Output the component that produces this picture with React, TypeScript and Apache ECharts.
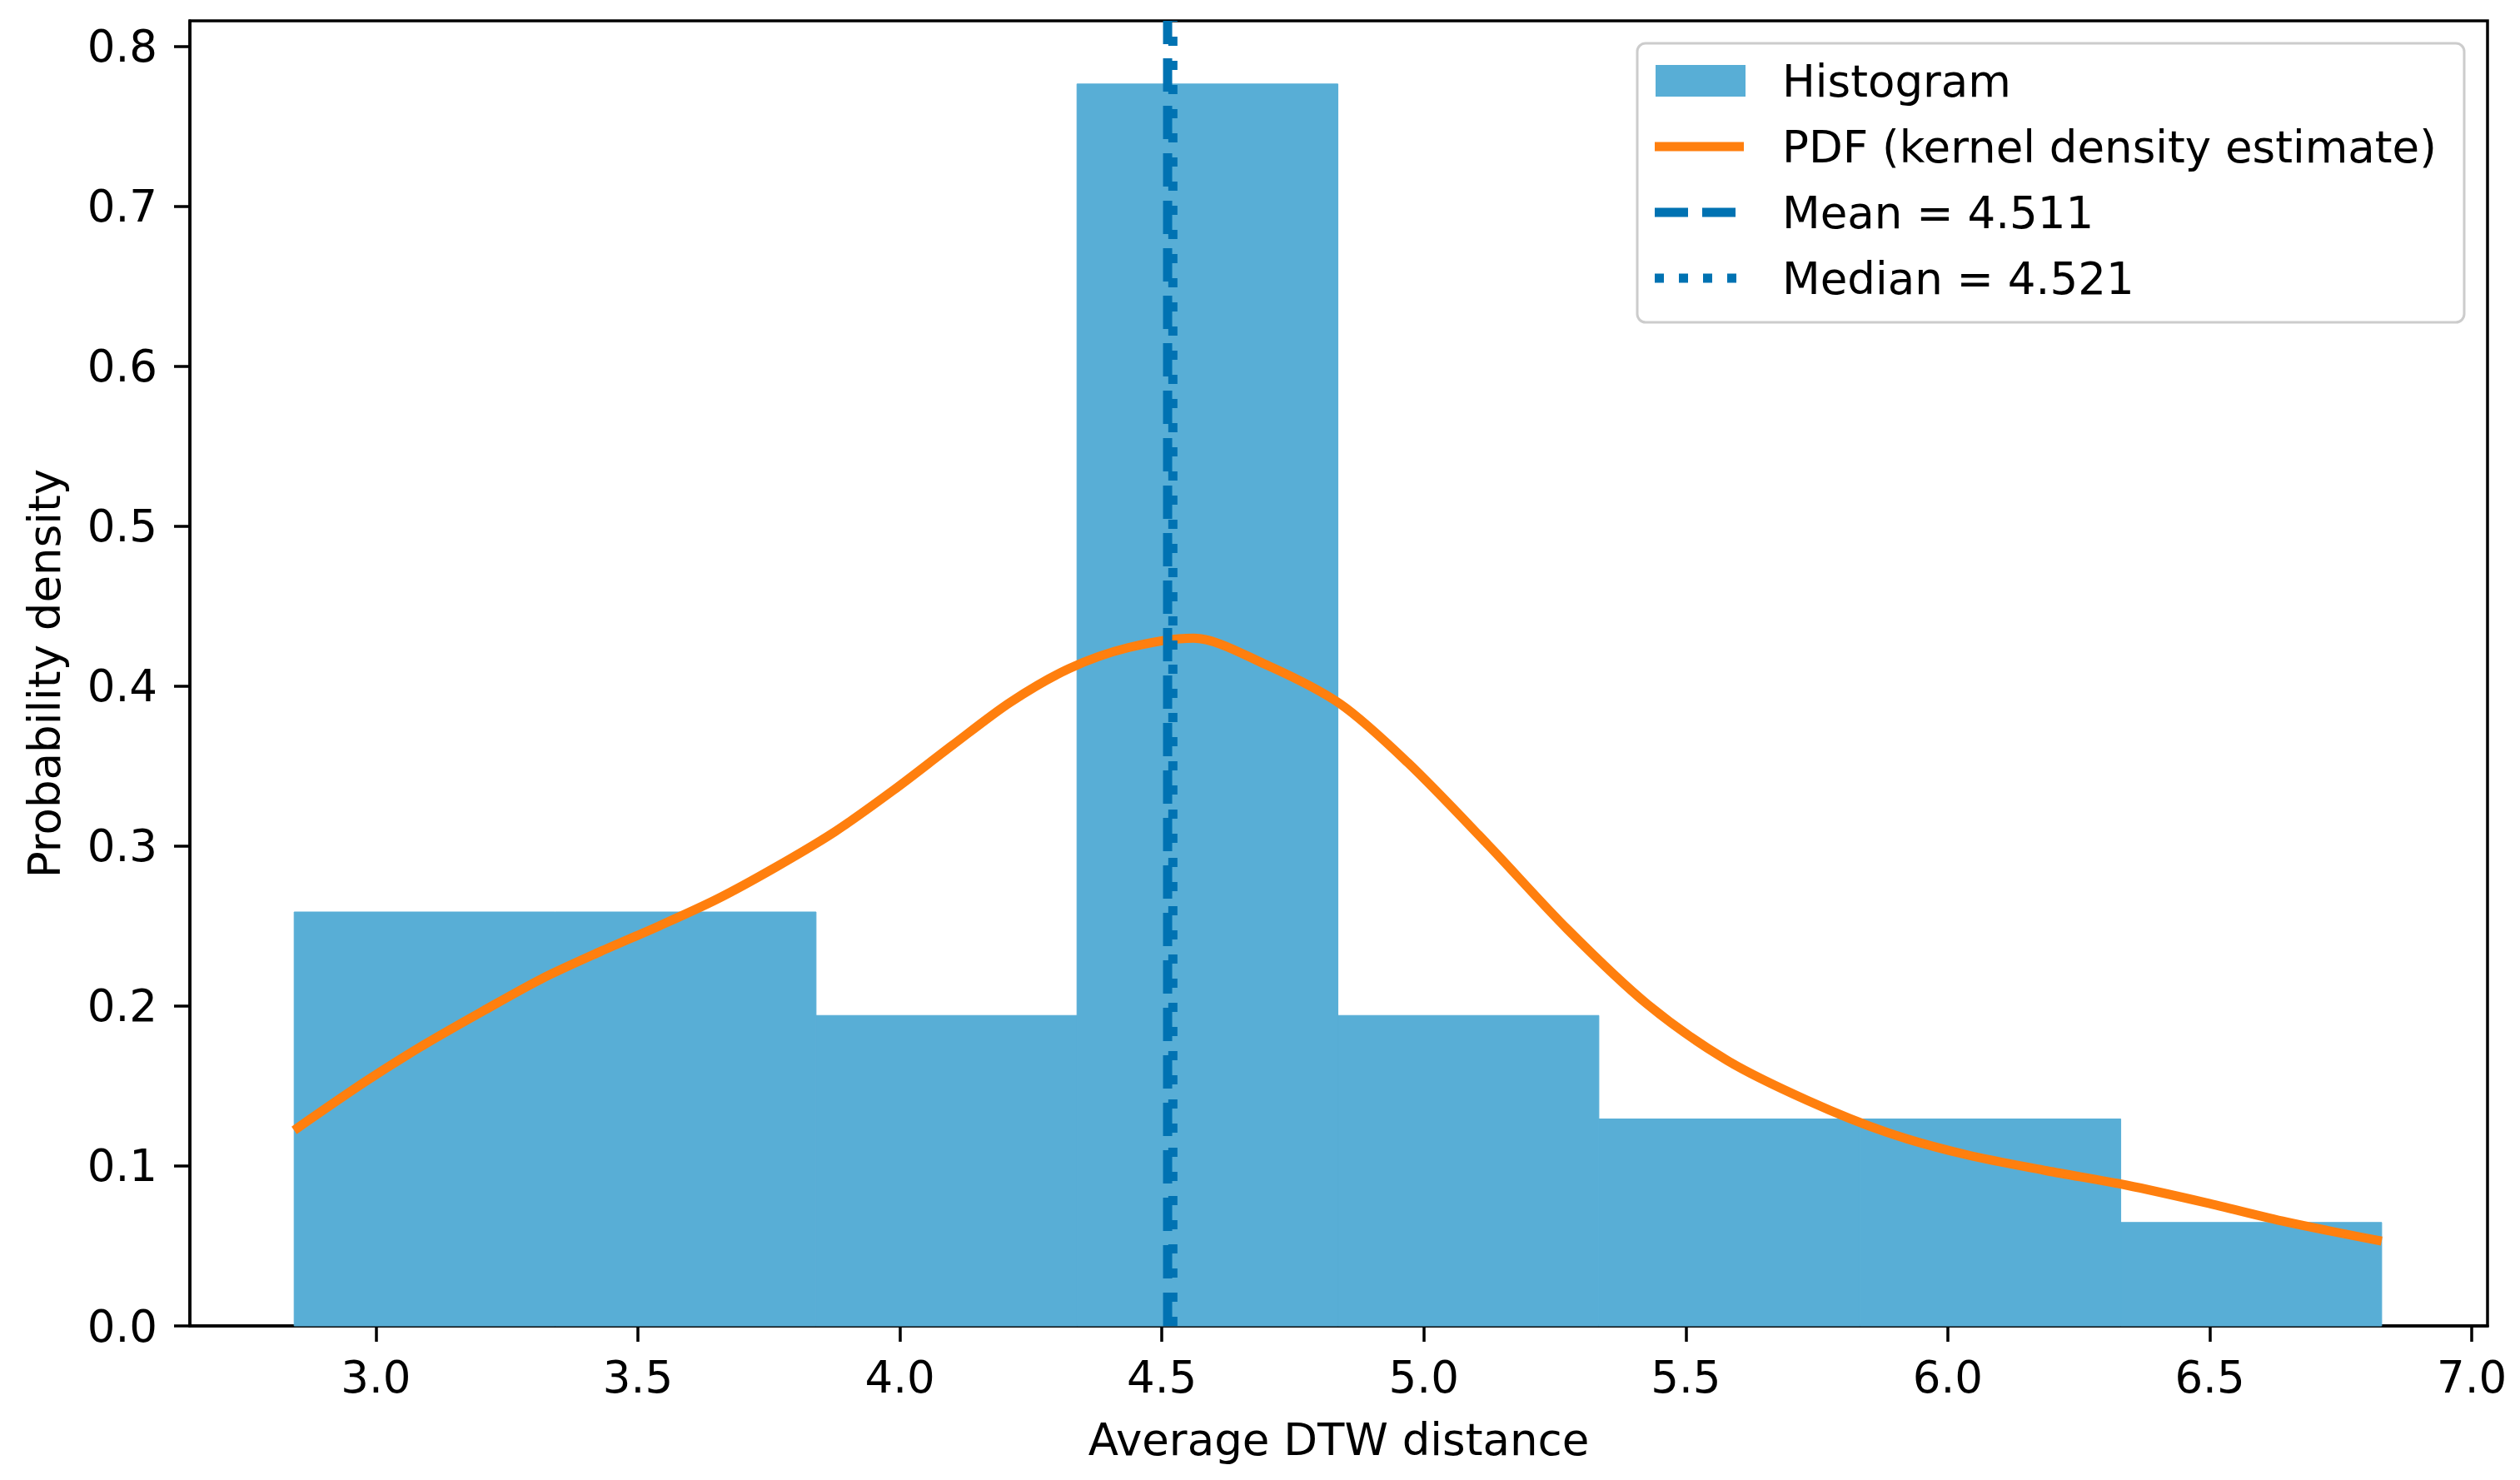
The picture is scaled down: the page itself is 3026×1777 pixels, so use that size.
import React, { useEffect, useRef } from "react";
import * as echarts from "echarts";

// ---- data ----
const binEdges = [2.844, 3.342, 3.840, 4.338, 4.836, 5.334, 5.832, 6.330, 6.828];
const binDensity = [0.2588, 0.2588, 0.1941, 0.7765, 0.1941, 0.1294, 0.1294, 0.0647];

const kdeX = [
  2.844, 2.981, 3.093, 3.205, 3.316, 3.428, 3.540, 3.652, 3.764, 3.876, 3.988,
  4.100, 4.211, 4.323, 4.435, 4.560, 4.695, 4.840, 4.970, 5.122,
  5.274, 5.427, 5.579, 5.732, 5.884, 6.036, 6.189, 6.341, 6.493, 6.646, 6.828,
];
const kdeY = [
  0.1223, 0.153, 0.176, 0.197, 0.217, 0.234, 0.250, 0.267, 0.287, 0.309, 0.335,
  0.363, 0.390, 0.411, 0.424, 0.430, 0.414, 0.389, 0.352, 0.301,
  0.248, 0.201, 0.166, 0.141, 0.121, 0.107, 0.097, 0.088, 0.077, 0.065, 0.053,
];

const meanValue = 4.511;
const medianValue = 4.521;

const xTicks = [3.0, 3.5, 4.0, 4.5, 5.0, 5.5, 6.0, 6.5, 7.0];
const yTicks = [0.0, 0.1, 0.2, 0.3, 0.4, 0.5, 0.6, 0.7, 0.8];
const xRange = [2.645, 7.03];
const yRange = [0, 0.816];

const legendLabels = [
  "Histogram",
  "PDF (kernel density estimate)",
  "Mean = 4.511",
  "Median = 4.521",
];

// ---- styles ----
const FONT = "DejaVu Sans";
const FS = 53;
const HIST_COLOR = "#58aed6";
const KDE_COLOR = "#ff7f0e";
const LINE_BLUE = "#0072b2";
const LW = 11;

export default function App() {
  const ref = useRef<HTMLDivElement>(null);

  useEffect(() => {
    document.body.style.margin = "0";
    if (!ref.current) return;
    const chart = echarts.init(ref.current, undefined, { renderer: "svg" });

    const histData = binDensity.map((d, i) => [binEdges[i], binEdges[i + 1], d]);
    const kdeData = kdeX.map((x, i) => [x, kdeY[i]]);

    const axisCommon = {
      axisLine: { show: true, lineStyle: { color: "#000", width: 3.5 } },
      axisTick: { show: true, inside: false, length: 19, lineStyle: { color: "#000", width: 3.5 } },
      splitLine: { show: false },
    };

    const legendX = 1966;
    const legendY = 52;
    const rowY = [97, 176, 255, 334];
    const handleX1 = 1987;
    const handleX2 = 2094;
    const textX = 2140;

    const option: any = {
      animation: false,
      backgroundColor: "#fff",
      grid: {
        left: 228,
        top: 25,
        width: 2759,
        height: 1567,
        show: true,
        borderColor: "#000",
        borderWidth: 3.5,
        backgroundColor: "transparent",
      },
      xAxis: {
        type: "value",
        min: xRange[0],
        max: xRange[1],
        ...axisCommon,
        axisTick: { ...axisCommon.axisTick, customValues: xTicks },
        axisLabel: {
          customValues: xTicks,
          formatter: (v: number) => v.toFixed(1),
          color: "#000",
          fontFamily: FONT,
          fontSize: FS,
          margin: 35,
        },
        name: "Average DTW distance",
        nameLocation: "middle",
        nameGap: 110,
        nameTextStyle: { color: "#000", fontFamily: FONT, fontSize: FS },
      },
      yAxis: {
        type: "value",
        min: yRange[0],
        max: yRange[1],
        ...axisCommon,
        axisTick: { ...axisCommon.axisTick, customValues: yTicks },
        axisLabel: {
          customValues: yTicks,
          formatter: (v: number) => v.toFixed(1),
          color: "#000",
          fontFamily: FONT,
          fontSize: FS,
          margin: 39,
        },
        name: "Probability density",
        nameLocation: "middle",
        nameGap: 148,
        nameRotate: 90,
        nameTextStyle: { color: "#000", fontFamily: FONT, fontSize: FS },
      },
      series: [
        {
          name: "Histogram",
          type: "custom",
          data: histData,
          encode: { x: [0, 1], y: 2 },
          z: 1,
          renderItem: (params: any, api: any) => {
            const x0 = api.value(0);
            const x1 = api.value(1);
            const h = api.value(2);
            const p0 = api.coord([x0, h]);
            const p1 = api.coord([x1, 0]);
            return {
              type: "rect",
              shape: { x: p0[0], y: p0[1], width: p1[0] - p0[0], height: p1[1] - p0[1] },
              style: { fill: HIST_COLOR, stroke: HIST_COLOR, lineWidth: 1 },
            };
          },
        },
        {
          name: "PDF (kernel density estimate)",
          type: "line",
          data: kdeData,
          smooth: 0.3,
          showSymbol: false,
          symbol: "none",
          z: 2,
          lineStyle: { color: KDE_COLOR, width: LW, cap: "butt" },
        },
        {
          name: "Mean = 4.511",
          type: "line",
          data: [
            [meanValue, yRange[0]],
            [meanValue, yRange[1]],
          ],
          showSymbol: false,
          symbol: "none",
          z: 3,
          lineStyle: { color: LINE_BLUE, width: LW, type: [40, 17], cap: "butt" },
        },
        {
          name: "Median = 4.521",
          type: "line",
          data: [
            [medianValue, yRange[0]],
            [medianValue, yRange[1]],
          ],
          showSymbol: false,
          symbol: "none",
          z: 4,
          lineStyle: { color: LINE_BLUE, width: LW, type: [11, 18], cap: "butt" },
        },
      ],
      graphic: [
        {
          type: "group",
          z: 100,
          children: [
            {
              type: "rect",
              shape: { x: legendX, y: legendY, width: 993, height: 335, r: 10 },
              style: { fill: "rgba(255,255,255,0.8)", stroke: "#cccccc", lineWidth: 3 },
            },
            {
              type: "rect",
              shape: { x: 1988, y: 78, width: 108, height: 38 },
              style: { fill: HIST_COLOR },
            },
            {
              type: "line",
              shape: { x1: handleX1, y1: rowY[1], x2: handleX2, y2: rowY[1] },
              style: { stroke: KDE_COLOR, lineWidth: LW },
            },
            {
              type: "line",
              shape: { x1: handleX1, y1: rowY[2], x2: handleX2, y2: rowY[2] },
              style: { stroke: LINE_BLUE, lineWidth: LW, lineDash: [40, 17] },
            },
            {
              type: "line",
              shape: { x1: handleX1, y1: rowY[3], x2: handleX2, y2: rowY[3] },
              style: { stroke: LINE_BLUE, lineWidth: LW, lineDash: [11, 18] },
            },
            ...legendLabels.map((t, i) => ({
              type: "text",
              x: textX,
              y: rowY[i],
              style: {
                text: t,
                fill: "#000",
                font: `${FS}px "${FONT}"`,
                textAlign: "left",
                textVerticalAlign: "middle",
              },
            })),
          ],
        },
      ],
    };

    chart.setOption(option);
    return () => chart.dispose();
  }, []);

  return <div ref={ref} style={{ width: 3026, height: 1777 }} />;
}
